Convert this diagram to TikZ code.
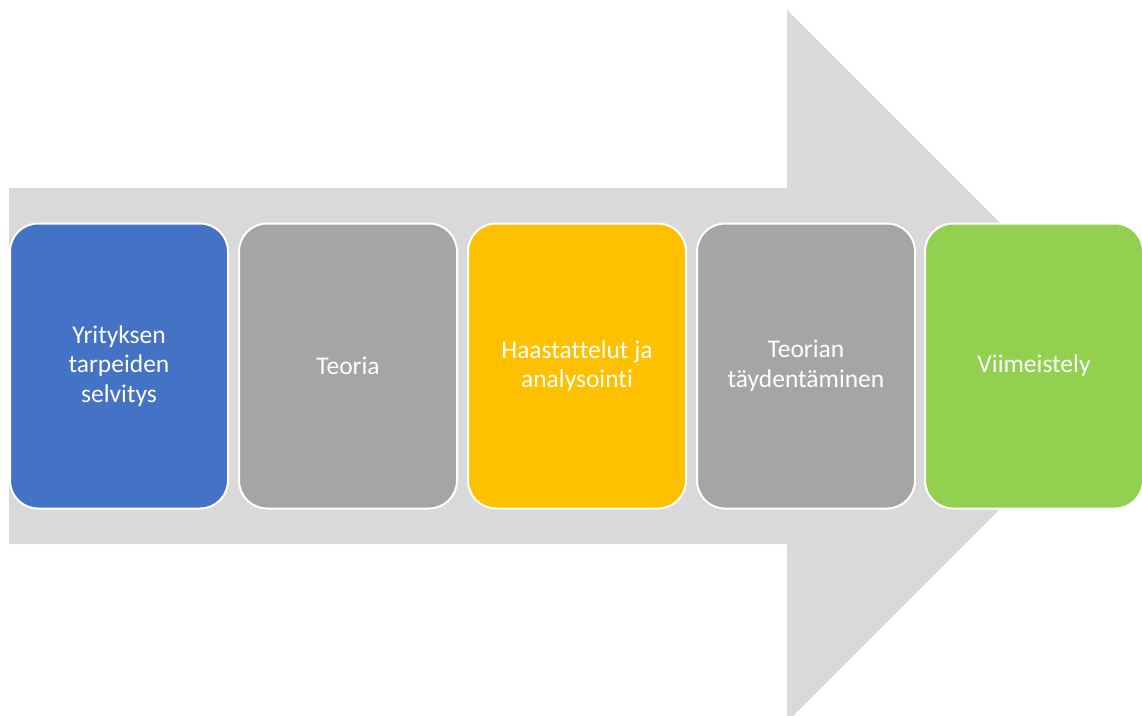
\documentclass[tikz,border=0pt]{standalone}
\usepackage{fontspec}
\setmainfont{Carlito}[Ligatures=NoCommon]
\usepackage{xcolor}
\usepackage{tikz}
\usetikzlibrary{calc, positioning}

\definecolor{arrowgray}{HTML}{D9D9D9}
\definecolor{stepblue}{HTML}{4472C4}
\definecolor{stepgray}{HTML}{A5A5A5}
\definecolor{stepgold}{HTML}{FFC000}
\definecolor{stepgreen}{HTML}{92D050}

\tikzset{
	phase/.style={draw=white, line width=2pt, rounded corners=28pt, minimum width=218pt, minimum height=285pt, inner sep=0pt, align=center, text=white, font=\fontsize{25.5}{29.5}\selectfont},
}

\begin{document}
\begin{tikzpicture}[x=1pt, y=-1pt]
		\useasboundingbox (0,0) rectangle (1142,715);

		\begin{scope}
			\fill [arrowgray] (9,188) -- (787,188) -- (787,10) -- (1143,366) -- (787,722) -- (787,544) -- (9,544) -- cycle;
		\end{scope}

		\begin{scope}
			\node [phase, fill=stepblue] (needs) at (119,366) {Yrityksen\\tarpeiden\\selvitys};
			\node [phase, fill=stepgray] (theory) at (348,366) {Teoria};
			\node [phase, fill=stepgold] (interviews) at (577,366) {Haastattelut ja\\analysointi};
			\node [phase, fill=stepgray] (supplement) at (806,366) {Teorian\\täydentäminen};
			\node [phase, fill=stepgreen] (finish) at (1034,366) {Viimeistely};
		\end{scope}
	\end{tikzpicture}
\end{document}
